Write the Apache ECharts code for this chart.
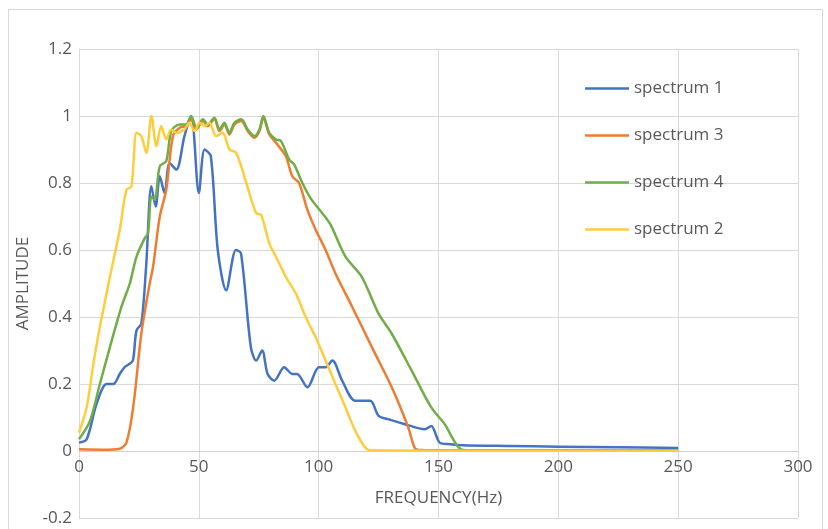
<!DOCTYPE html>
<html><head><meta charset="utf-8">
<script src="https://cdn.jsdelivr.net/npm/echarts@6/dist/echarts.min.js"></script>
<style>html,body{margin:0;padding:0;background:#fff}#c{width:828px;height:529px}</style>
</head><body><div id="c"></div>
<script>
const xTicks = [0, 50, 100, 150, 200, 250, 300];
const yTicks = [-0.2, 0, 0.2, 0.4, 0.6, 0.8, 1, 1.2];
const seriesNames = ['spectrum 1', 'spectrum 3', 'spectrum 4', 'spectrum 2'];

const freq1 = [0,3.2,7.3,11.5,14.3,17,19,21,22.5,24,26,28,30.2,32,33.7,35.7,37.8,40.6,44,46.8,50,52.4,55,57.9,61.4,65.5,67.6,71.7,73.9,76.4,78.7,81.5,85.6,89,91,95.3,100.1,102.9,105.7,109.8,115.3,121.5,125,129,136,144.3,147,150.5,155,160,180,200,225,250];
const amp1  = [0.025,0.035,0.14,0.2,0.2,0.23,0.25,0.26,0.27,0.36,0.38,0.55,0.79,0.73,0.82,0.77,0.86,0.84,0.94,1.0,0.77,0.9,0.88,0.6,0.48,0.6,0.59,0.31,0.27,0.30,0.23,0.21,0.25,0.23,0.23,0.19,0.25,0.25,0.27,0.21,0.15,0.15,0.105,0.095,0.08,0.065,0.075,0.025,0.02,0.017,0.015,0.013,0.011,0.009];

const freq3 = [0,10,17,19.8,22.6,26,29.5,30.9,33.7,36.4,39.2,42,44.7,46.8,49,51.7,53.7,56.5,58.6,60.7,62.7,64.9,67.7,70.4,73.2,75.3,76.9,79.4,82.2,86.3,89,91.8,95.3,98.8,102.9,107,114,122.2,130.5,137.4,140.2,143,150,200,250];
const amp3  = [0.005,0.004,0.007,0.025,0.13,0.35,0.5,0.55,0.7,0.78,0.94,0.965,0.97,0.99,0.96,0.985,0.97,0.99,0.955,0.975,0.945,0.975,0.985,0.955,0.935,0.955,0.995,0.945,0.92,0.88,0.82,0.8,0.72,0.66,0.6,0.53,0.43,0.31,0.19,0.07,0.008,0.003,0.002,0.002,0.002];

const freq4 = [0,4.6,8.7,12.9,17.7,21.2,24,27.4,28.8,30.2,31.6,33.7,36.4,38.5,42,44.7,46.8,49,51.7,53.7,56.5,58.6,60.7,62.7,64.9,67.7,70.4,73.2,75.3,76.9,79.4,82.2,84.3,87.7,89.8,93.2,96.6,101.5,105,111.2,118,125,130.5,138.8,147,152.6,159.5,165,200,250];
const amp4  = [0.035,0.09,0.2,0.31,0.43,0.5,0.58,0.635,0.65,0.76,0.75,0.85,0.865,0.955,0.975,0.975,1.0,0.965,0.99,0.975,0.995,0.96,0.98,0.95,0.98,0.99,0.96,0.94,0.96,1.0,0.95,0.93,0.925,0.87,0.855,0.8,0.755,0.71,0.675,0.58,0.52,0.41,0.35,0.24,0.13,0.08,0.005,0.002,0.002,0.002];

const freq2 = [0,3.2,6,8.7,12.9,17,19.8,21.9,24,26,28.1,30.2,32.3,34.3,36.4,38.5,40.6,44,46,48.2,50.3,52.4,54.4,57.2,59.9,62.8,65.6,69.8,73.9,76,79.4,82.2,86.3,90.5,94.6,98.7,102.9,107,111.2,115.3,120.2,123,150,200,250];
const amp2  = [0.055,0.13,0.26,0.37,0.52,0.66,0.78,0.79,0.95,0.94,0.89,1.0,0.91,0.97,0.93,0.96,0.95,0.96,0.98,0.955,0.98,0.97,0.98,0.94,0.95,0.9,0.89,0.8,0.71,0.705,0.62,0.58,0.52,0.47,0.4,0.34,0.27,0.2,0.13,0.06,0.005,0.002,0.001,0.001,0.001];

const colors = ['#4472C4', '#ED7D31', '#70AD47', '#FFCD3C'];
const xs = [freq1, freq3, freq4, freq2];
const ys = [amp1, amp3, amp4, amp2];

const FONT = "'Open Sans', 'Liberation Sans', sans-serif";
const txt = '#595959';
const chart = echarts.init(document.getElementById('c'));
chart.setOption({
  animation: false,
  backgroundColor: '#fff',
  graphic: [{type: 'rect', shape: {x: 8.5, y: 9.5, width: 814, height: 530}, style: {fill: 'none', stroke: '#d9d9d9', lineWidth: 1}, silent: true}],
  grid: {left: 79, right: 30, top: 49, bottom: 11, containLabel: false, outerBoundsMode: 'none'},
  legend: {
    orient: 'vertical', left: 580, top: 75, itemGap: 30, itemWidth: 44, itemHeight: 14,
    icon: 'path://M0,6 L44,6 L44,8.6 L0,8.6 Z',
    textStyle: {color: txt, fontSize: 17, fontFamily: FONT},
    data: seriesNames
  },
  xAxis: {
    type: 'value', min: xTicks[0], max: xTicks[xTicks.length-1], interval: 50,
    offset: -67,
    name: 'FREQUENCY(Hz)', nameLocation: 'middle', nameGap: 39,
    nameTextStyle: {color: txt, fontSize: 17, fontFamily: FONT},
    axisLine: {show: true, onZero: false, lineStyle: {color: '#d0d0d0', width: 1}},
    axisTick: {show: false},
    axisLabel: {color: txt, fontSize: 17, fontFamily: FONT, margin: 8},
    splitLine: {show: true, lineStyle: {color: '#d9d9d9', width: 1}}
  },
  yAxis: {
    type: 'value', min: yTicks[0], max: yTicks[yTicks.length-1], interval: 0.2,
    name: 'AMPLITUDE', nameLocation: 'middle', nameGap: 44, nameRotate: 90,
    nameTextStyle: {color: txt, fontSize: 17, fontFamily: FONT},
    axisLine: {show: true, onZero: false, lineStyle: {color: '#d9d9d9', width: 1}}, axisTick: {show: false},
    axisLabel: {color: txt, fontSize: 17, fontFamily: FONT, margin: 7},
    splitLine: {show: true, lineStyle: {color: '#d9d9d9', width: 1}}
  },
  series: seriesNames.map((n, i) => ({
    name: n, type: 'line', showSymbol: false, smooth: 0.3,
    data: xs[i].map((x, j) => [x, ys[i][j]]),
    lineStyle: {color: colors[i], width: 2.5},
    itemStyle: {color: colors[i]},
    z: 2 + i
  }))
});
</script></body></html>
